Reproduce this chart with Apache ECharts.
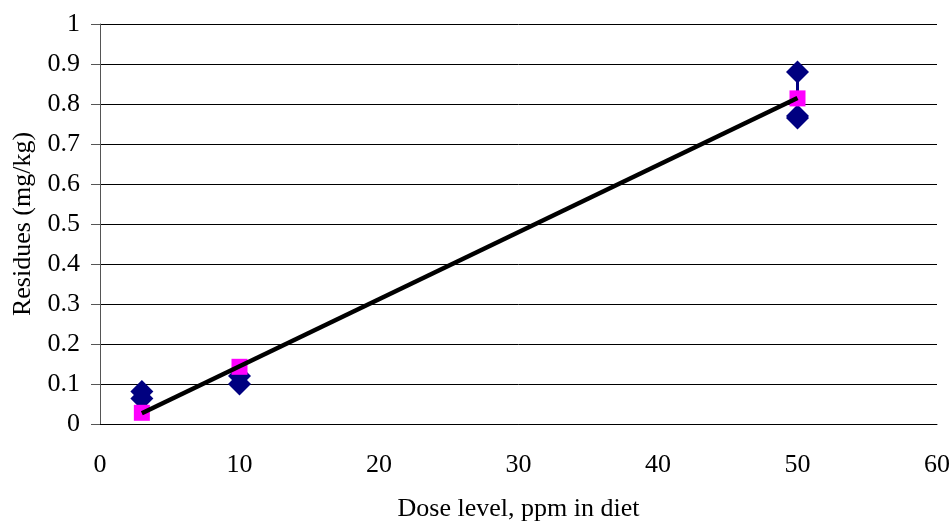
<!DOCTYPE html>
<html><head><meta charset="utf-8">
<script src="https://cdn.jsdelivr.net/npm/echarts@6/dist/echarts.min.js"></script>
<style>html,body{margin:0;padding:0;background:#fff}#c{width:952px;height:522px}</style>
</head><body><div id="c"></div>
<script>
// Data
const doseLevels = [3, 3, 10, 10, 50, 50, 50];
const residues = [0.081, 0.064, 0.12, 0.10, 0.88, 0.77, 0.765];
const meanDose = [3, 10, 50];
const meanResidue = [0.028, 0.143, 0.814];
const trendX = [3, 50];
const trendY = [0.027, 0.815];
const xTicks = [0, 10, 20, 30, 40, 50, 60];
const yTicks = [0, 0.1, 0.2, 0.3, 0.4, 0.5, 0.6, 0.7, 0.8, 0.9, 1];

const font = 'Liberation Serif';
const individual = doseLevels.map((d, i) => [d, residues[i]]);
const means = meanDose.map((d, i) => [d, meanResidue[i]]);
const trend = trendX.map((d, i) => [d, trendY[i]]);
// range lines per dose group (min..max of individual values)
const rangeSeries = meanDose.map(d => {
  const vals = residues.filter((v, i) => doseLevels[i] === d);
  return {
    type: 'line', data: [[d, Math.min(...vals)], [d, Math.max(...vals)]],
    symbol: 'none', lineStyle: {color: '#000080', width: 3}, silent: true, z: 1
  };
});

const chart = echarts.init(document.getElementById('c'));
chart.setOption({
  animation: false,
  backgroundColor: '#fff',
  grid: {left: 100, right: 15, top: 24, bottom: 98, containLabel: false, outerBoundsMode: 'none'},
  xAxis: {
    type: 'value', min: xTicks[0], max: xTicks[xTicks.length - 1], interval: 10,
    axisLine: {show: true, lineStyle: {color: '#000', width: 1}},
    axisTick: {show: false},
    splitLine: {show: false},
    axisLabel: {fontFamily: font, fontSize: 26, color: '#000', margin: 28},
    name: 'Dose level, ppm in diet', nameLocation: 'middle', nameGap: 72,
    nameTextStyle: {fontFamily: font, fontSize: 26, color: '#000'}
  },
  yAxis: {
    type: 'value', min: yTicks[0], max: yTicks[yTicks.length - 1], interval: 0.1,
    axisLine: {show: true, lineStyle: {color: '#555', width: 1}},
    axisTick: {show: true, length: 9, lineStyle: {color: '#555'}},
    splitLine: {show: true, lineStyle: {color: '#000', width: 1}},
    axisLabel: {fontFamily: font, fontSize: 26, color: '#000', margin: 20,
      formatter: v => String(Math.round(v * 10) / 10)},
    name: 'Residues (mg/kg)', nameLocation: 'middle', nameGap: 64,
    nameTextStyle: {fontFamily: font, fontSize: 26, color: '#000'}
  },
  series: [
    ...rangeSeries,
    {type: 'scatter', data: individual, symbol: 'diamond', symbolSize: [23, 23],
      itemStyle: {color: '#000080', opacity: 1}, z: 2},
    {type: 'scatter', data: means, symbol: 'rect', symbolSize: 16,
      itemStyle: {color: '#FF00FF', opacity: 1}, z: 3},
    {type: 'line', data: trend, symbol: 'none',
      lineStyle: {color: '#000', width: 4.5}, z: 4}
  ]
});
</script></body></html>
